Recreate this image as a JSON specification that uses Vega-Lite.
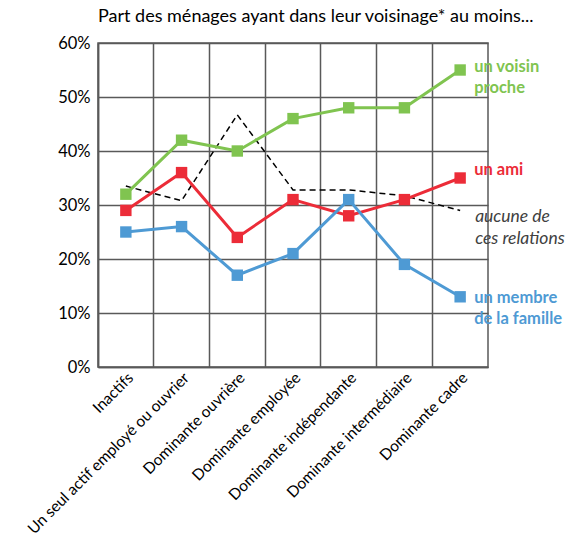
{
  "$schema": "https://vega.github.io/schema/vega-lite/v6.json",
  "width": 390,
  "height": 324,
  "autosize": {"type": "none"},
  "padding": {"left": 98, "top": 43, "right": 85, "bottom": 169},
  "background": "white",
  "config": {
    "font": "Lato",
    "view": {"stroke": "#595959", "strokeWidth": 1.5},
    "axis": {"gridColor": "#595959", "gridWidth": 1.5, "gridOpacity": 1, "domainColor": "#595959", "domainWidth": 1.5, "ticks": false, "labelColor": "black", "labelFont": "Lato", "title": null}
  },
  "title": {"text": "Part des ménages ayant dans leur voisinage* au moins...", "anchor": "start", "frame": "group", "fontSize": 18, "fontWeight": "normal", "font": "Lato", "color": "black", "offset": 9},
  "datasets": {
    "main": [
      {"cat": "Inactifs", "series": "voisin", "value": 32},
      {"cat": "Un seul actif employé ou ouvrier", "series": "voisin", "value": 42},
      {"cat": "Dominante ouvrière", "series": "voisin", "value": 40},
      {"cat": "Dominante employée", "series": "voisin", "value": 46},
      {"cat": "Dominante indépendante", "series": "voisin", "value": 48},
      {"cat": "Dominante intermédiaire", "series": "voisin", "value": 48},
      {"cat": "Dominante cadre", "series": "voisin", "value": 55},
      {"cat": "Inactifs", "series": "ami", "value": 29},
      {"cat": "Un seul actif employé ou ouvrier", "series": "ami", "value": 36},
      {"cat": "Dominante ouvrière", "series": "ami", "value": 24},
      {"cat": "Dominante employée", "series": "ami", "value": 31},
      {"cat": "Dominante indépendante", "series": "ami", "value": 28},
      {"cat": "Dominante intermédiaire", "series": "ami", "value": 31},
      {"cat": "Dominante cadre", "series": "ami", "value": 35},
      {"cat": "Inactifs", "series": "famille", "value": 25},
      {"cat": "Un seul actif employé ou ouvrier", "series": "famille", "value": 26},
      {"cat": "Dominante ouvrière", "series": "famille", "value": 17},
      {"cat": "Dominante employée", "series": "famille", "value": 21},
      {"cat": "Dominante indépendante", "series": "famille", "value": 31},
      {"cat": "Dominante intermédiaire", "series": "famille", "value": 19},
      {"cat": "Dominante cadre", "series": "famille", "value": 13},
      {"cat": "Inactifs", "series": "aucune", "value": 33.5},
      {"cat": "Un seul actif employé ou ouvrier", "series": "aucune", "value": 30.8},
      {"cat": "Dominante ouvrière", "series": "aucune", "value": 46.7},
      {"cat": "Dominante employée", "series": "aucune", "value": 32.8},
      {"cat": "Dominante indépendante", "series": "aucune", "value": 32.8},
      {"cat": "Dominante intermédiaire", "series": "aucune", "value": 31.7},
      {"cat": "Dominante cadre", "series": "aucune", "value": 29}
    ],
    "labels": [
      {"cat": "Dominante cadre", "series": "voisin", "value": 55.5, "label": "un voisin|proche"},
      {"cat": "Dominante cadre", "series": "ami", "value": 36.5, "label": "un ami"},
      {"cat": "Dominante cadre", "series": "famille", "value": 12.8, "label": "un membre|de la famille"}
    ],
    "labels2": [
      {"cat": "Dominante cadre", "value": 27.8, "label": "aucune de|ces relations"}
    ]
  },
  "encoding": {
    "x": {
      "field": "cat", "type": "nominal",
      "sort": ["Inactifs", "Un seul actif employé ou ouvrier", "Dominante ouvrière", "Dominante employée", "Dominante indépendante", "Dominante intermédiaire", "Dominante cadre"],
      "scale": {"type": "band", "paddingInner": 0, "paddingOuter": 0},
      "axis": {"grid": true, "bandPosition": 0, "labelAngle": -45, "labelAlign": "right", "labelBaseline": "top", "labelFontSize": 15.5, "labelPadding": 3, "labelLimit": 400}
    },
    "y": {
      "field": "value", "type": "quantitative",
      "scale": {"domain": [0, 60], "nice": false},
      "axis": {"values": [0, 10, 20, 30, 40, 50, 60], "labelExpr": "datum.value + '%'", "labelFontSize": 16.5, "labelPadding": 8}
    }
  },
  "layer": [
    {
      "data": {"name": "main"},
      "transform": [{"filter": "datum.series === 'aucune'"}],
      "mark": {"type": "line", "color": "black", "strokeWidth": 1.5, "strokeDash": [6, 4]}
    },
    {
      "data": {"name": "main"},
      "transform": [{"filter": "datum.series !== 'aucune'"}],
      "mark": {"type": "line", "strokeWidth": 3, "point": {"shape": "square", "size": 130, "filled": true, "opacity": 1}},
      "encoding": {
        "color": {"field": "series", "type": "nominal", "scale": {"domain": ["voisin", "ami", "famille"], "range": ["#80C450", "#EC2C38", "#4E9AD4"]}, "legend": null}
      }
    },
    {
      "data": {"name": "labels"},
      "mark": {"type": "text", "align": "left", "baseline": "middle", "dx": 14, "fontSize": 16.5, "fontWeight": "bold", "lineHeight": 21, "lineBreak": "|", "font": "Lato"},
      "encoding": {
        "text": {"field": "label"},
        "color": {"field": "series", "type": "nominal", "scale": {"domain": ["voisin", "ami", "famille"], "range": ["#80C450", "#EC2C38", "#4E9AD4"]}, "legend": null}
      }
    },
    {
      "data": {"name": "labels2"},
      "mark": {"type": "text", "align": "left", "baseline": "middle", "dx": 15, "fontSize": 17.5, "fontStyle": "italic", "lineHeight": 22, "lineBreak": "|", "color": "#404040", "font": "Lato"},
      "encoding": {"text": {"field": "label"}}
    }
  ]
}
